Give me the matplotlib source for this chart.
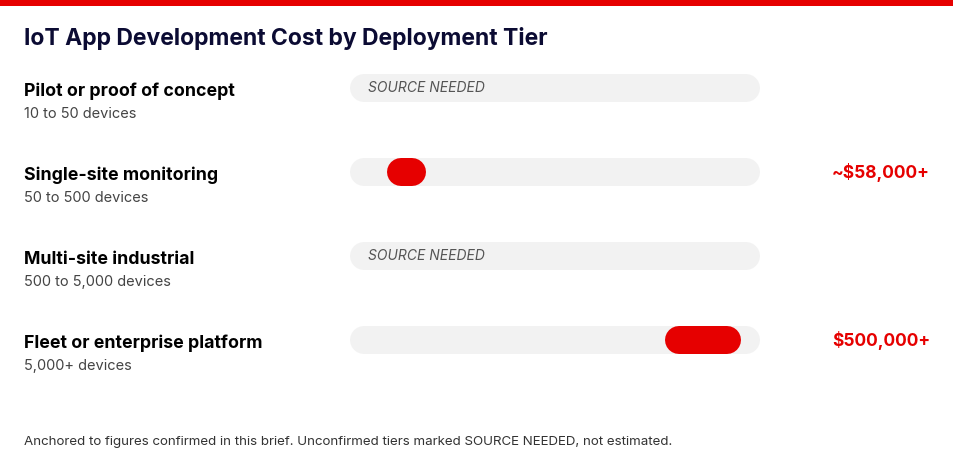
import matplotlib.pyplot as plt
from matplotlib.patches import Rectangle

# data
tiers = ['Pilot or proof of concept', 'Single-site monitoring',
         'Multi-site industrial', 'Fleet or enterprise platform']
devices = ['10 to 50 devices', '50 to 500 devices',
           '500 to 5,000 devices', '5,000+ devices']
cost_low = [None, 58000, None, 500000]
cost_high = [None, 120000, None, 620000]
cost_labels = [None, '~$58,000+', None, '$500,000+']
scale_max = 650000

title = 'IoT App Development Cost by Deployment Tier'
footer = 'Anchored to figures confirmed in this brief. Unconfirmed tiers marked SOURCE NEEDED, not estimated.'

RED = '#e60000'
TRACK = '#f2f2f2'
NAVY = '#0b0b33'
FONT = ['Inter', 'DejaVu Sans']

W, H = 954, 463
fig = plt.figure(figsize=(W / 100, H / 100), dpi=100)

# background axes in pixel coords
bg = fig.add_axes([0, 0, 1, 1])
bg.set_xlim(0, W)
bg.set_ylim(H, 0)
bg.axis('off')
bg.add_patch(Rectangle((0, 0), W, 6, color=RED, lw=0))

bg.text(24, 39, title, fontsize=16.5, fontweight='bold', color=NAVY,
        va='center', ha='left', family=FONT)
bg.text(24, 442, footer, fontsize=9.6, color='#333333',
        va='center', ha='left', family=FONT)

# track axes: x from 350 to 760 px, rows centred at 88 + 84*i
tx0, tx1 = 350, 760
ty0, ty1 = 46, 46 + 84 * 4
ax = fig.add_axes([tx0 / W, 1 - ty1 / H, (tx1 - tx0) / W, (ty1 - ty0) / H])
ax.set_xlim(0, scale_max)
ax.set_ylim(len(tiers) - 0.5, -0.5)
ax.axis('off')

bar_px = 28
lw_pt = bar_px * 72 / 100
pad = (bar_px / 2) / (tx1 - tx0) * scale_max

for i, tier in enumerate(tiers):
    yc = 88 + 84 * i
    bg.text(24, yc + 3, tier, fontsize=12.75, fontweight='bold', color='black',
            va='center', ha='left', family=FONT)
    bg.text(24, yc + 26, devices[i], fontsize=10.5, color='#444444',
            va='center', ha='left', family=FONT)

    ax.plot([pad, scale_max - pad], [i, i], color=TRACK, lw=lw_pt,
            solid_capstyle='round')
    if cost_low[i] is None:
        ax.text(18 / (tx1 - tx0) * scale_max, i, 'SOURCE NEEDED', fontsize=10,
                style='italic', color='#555555', va='center', ha='left',
                family=FONT)
    else:
        ax.plot([cost_low[i] + pad, cost_high[i] - pad], [i, i], color=RED,
                lw=lw_pt, solid_capstyle='round')
        bg.text(930, yc + 1, cost_labels[i], fontsize=12.5, fontweight='bold',
                color=RED, va='center', ha='right', family=FONT)

fig.savefig('out.png', dpi=100)
